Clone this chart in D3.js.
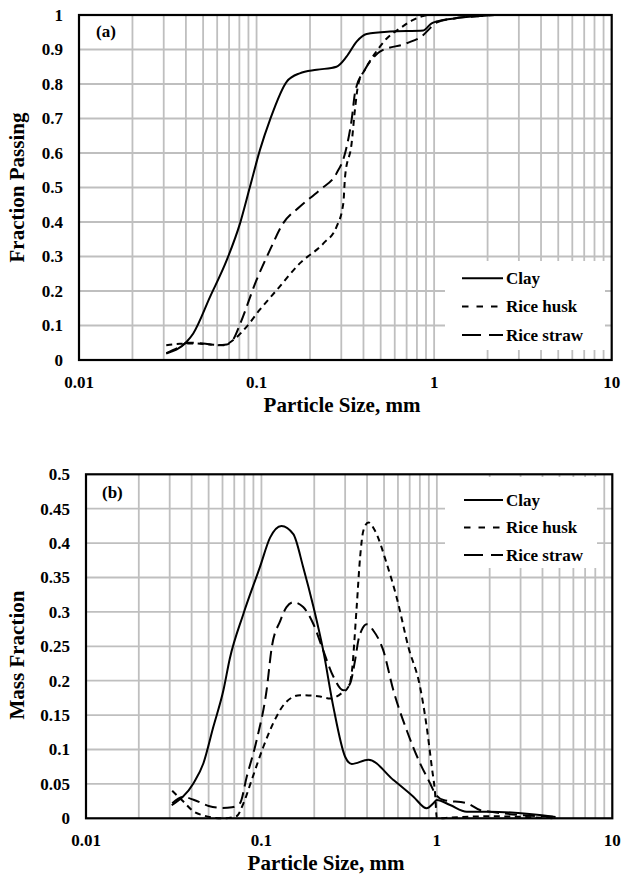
<html>
<head>
  <script src="https://cdn.jsdelivr.net/npm/d3@7"></script>
  <title>Particle size distribution</title>
  <style>
  body { margin: 0; background: #fff; }
  svg { background-color: #fff; }
  text { font-family: "Liberation Serif", "Times New Roman", serif; font-weight: bold; fill: #000; }
  </style>
</head>
<body>
  <div id="svg"></div>
  <script>

  // x tick labels (particle size, mm)
  var sizeTicks = [0.01, 0.1, 1, 10];
  var seriesNames = ["Clay", "Rice husk", "Rice straw"];

  // (a) fraction passing
  var passTicks = [0, 0.1, 0.2, 0.3, 0.4, 0.5, 0.6, 0.7, 0.8, 0.9, 1];
  var clayPassSize = [0.031, 0.0404, 0.044, 0.0547, 0.068, 0.0807, 0.0918, 0.1045, 0.119, 0.148, 0.175, 0.218, 0.282, 0.321, 0.366, 0.417, 0.564, 0.869, 0.968, 1.03, 1.3, 1.81, 2.2, 4.75];
  var clayPass = [0.019, 0.053, 0.077, 0.183, 0.29, 0.396, 0.502, 0.609, 0.696, 0.807, 0.831, 0.841, 0.85, 0.879, 0.923, 0.945, 0.952, 0.955, 0.976, 0.981, 0.99, 0.997, 1.0, 1.0];
  var huskPassSize = [0.031, 0.037, 0.045, 0.055, 0.065, 0.074, 0.088, 0.104, 0.13, 0.175, 0.238, 0.282, 0.308, 0.315, 0.343, 0.358, 0.374, 0.407, 0.465, 0.541, 0.641, 0.762, 0.868, 0.95, 4.75];
  var huskPass = [0.043, 0.047, 0.048, 0.045, 0.043, 0.058, 0.097, 0.145, 0.203, 0.28, 0.338, 0.386, 0.454, 0.531, 0.628, 0.725, 0.8, 0.841, 0.889, 0.932, 0.961, 0.986, 0.997, 1.0, 1.0];
  var strawPassSize = [0.031, 0.036, 0.041, 0.05, 0.06, 0.068, 0.074, 0.081, 0.1, 0.119, 0.141, 0.175, 0.227, 0.282, 0.315, 0.343, 0.36, 0.407, 0.465, 0.495, 0.7, 0.869, 0.95, 1.03, 1.3, 1.81, 2.2, 4.75];
  var strawPass = [0.02, 0.035, 0.05, 0.048, 0.043, 0.045, 0.06, 0.106, 0.232, 0.319, 0.396, 0.444, 0.493, 0.541, 0.599, 0.696, 0.78, 0.841, 0.882, 0.894, 0.918, 0.942, 0.962, 0.978, 0.99, 0.997, 1.0, 1.0];

  // (b) mass fraction
  var massTicks = [0, 0.05, 0.1, 0.15, 0.2, 0.25, 0.3, 0.35, 0.4, 0.45, 0.5];
  var clayMassSize = [0.0308, 0.041, 0.0467, 0.0532, 0.0607, 0.066, 0.0789, 0.098, 0.112, 0.13, 0.152, 0.173, 0.198, 0.225, 0.257, 0.3, 0.327, 0.407, 0.565, 0.735, 0.875, 0.955, 1.0, 1.19, 1.48, 2.0, 4.75];
  var clayMass = [0.019, 0.051, 0.08, 0.133, 0.186, 0.232, 0.297, 0.365, 0.408, 0.425, 0.413, 0.365, 0.307, 0.244, 0.162, 0.0895, 0.079, 0.085, 0.0557, 0.0314, 0.0145, 0.0218, 0.0266, 0.0193, 0.0097, 0.0097, 0.002];
  var huskMassSize = [0.031, 0.036, 0.041, 0.047, 0.06, 0.072, 0.079, 0.088, 0.1026, 0.122, 0.136, 0.166, 0.216, 0.246, 0.287, 0.313, 0.327, 0.349, 0.365, 0.381, 0.407, 0.444, 0.518, 0.59, 0.688, 0.802, 0.875, 0.935, 0.977, 1.0, 1.2, 2.0, 4.75];
  var huskMass = [0.04, 0.024, 0.01, 0.004, 0.0, 0.003, 0.0218, 0.0557, 0.104, 0.148, 0.167, 0.179, 0.177, 0.174, 0.182, 0.191, 0.211, 0.307, 0.379, 0.418, 0.43, 0.418, 0.37, 0.321, 0.249, 0.191, 0.133, 0.075, 0.036, 0.0, 0.001, 0.003, 0.0];
  var strawMassSize = [0.031, 0.036, 0.041, 0.05, 0.06, 0.068, 0.0755, 0.0824, 0.094, 0.107, 0.1146, 0.128, 0.139, 0.152, 0.173, 0.198, 0.225, 0.257, 0.293, 0.32, 0.342, 0.357, 0.372, 0.398, 0.434, 0.495, 0.565, 0.673, 0.802, 0.914, 0.977, 1.09, 1.48, 1.76, 2.0, 4.75];
  var strawMass = [0.022, 0.031, 0.027, 0.018, 0.015, 0.016, 0.022, 0.06, 0.114, 0.186, 0.249, 0.287, 0.307, 0.314, 0.307, 0.282, 0.244, 0.206, 0.186, 0.196, 0.23, 0.259, 0.273, 0.282, 0.273, 0.244, 0.186, 0.128, 0.08, 0.051, 0.036, 0.0266, 0.022, 0.012, 0.0097, 0.002];

  var width = 622, height = 875;
  var dashes = [null, "6,4.5", "12,6"];
  var serif = "'Liberation Serif', 'Times New Roman', serif";

  var svg = d3.select("#svg").append("svg").attr("width", width).attr("height", height)
    .attr("font-family", serif).attr("font-weight", "bold");

  function pairs(xs, ys) {
    return xs.map(function(x, i) { return [x, ys[i]]; });
  }

  function panel(p) {
    var g = svg.append("g");
    var x = d3.scaleLog().domain([0.01, 10]).range([p.left, p.right]);
    var y = d3.scaleLinear().domain([0, p.ymax]).range([p.bottom, p.top]);

    // vertical grid (major + minor)
    var vgrid = [];
    [0.01, 0.1, 1].forEach(function(dec) {
      for (var k = 1; k < 10; k++) vgrid.push(dec * k);
    });
    vgrid = vgrid.filter(function(v) { return v > 0.01; });
    g.selectAll(".vg").data(vgrid).enter().append("line")
      .attr("x1", function(d) { return x(d); }).attr("x2", function(d) { return x(d); })
      .attr("y1", p.top).attr("y2", p.bottom)
      .attr("stroke", "#bfbfbf").attr("stroke-width", 1.8);
    g.selectAll(".hg").data(p.yticks.slice(1, -1)).enter().append("line")
      .attr("x1", p.left).attr("x2", p.right)
      .attr("y1", function(d) { return y(d); }).attr("y2", function(d) { return y(d); })
      .attr("stroke", "#bfbfbf").attr("stroke-width", 1.8);

    // legend background hides the grid
    g.append("rect").attr("x", p.legend.x0).attr("y", p.legend.y0)
      .attr("width", p.legend.x1 - p.legend.x0).attr("height", p.legend.y1 - p.legend.y0)
      .attr("fill", "#fff");

    var line = d3.line()
      .x(function(d) { return x(d[0]); })
      .y(function(d) { return y(d[1]); })
      .curve(d3.curveMonotoneX);

    p.series.forEach(function(s, i) {
      g.append("path").datum(s)
        .attr("d", line)
        .attr("fill", "none")
        .attr("stroke", "#000")
        .attr("stroke-width", 2)
        .attr("stroke-dasharray", dashes[i]);
    });

    // frame
    g.append("rect").attr("x", p.left).attr("y", p.top)
      .attr("width", p.right - p.left).attr("height", p.bottom - p.top)
      .attr("fill", "none").attr("stroke", "#000").attr("stroke-width", 2.2);

    // axes labels
    g.selectAll(".yt").data(p.yticks).enter().append("text")
      .attr("x", p.left - 16).attr("y", function(d) { return y(d); })
      .attr("dy", "0.35em").attr("text-anchor", "end")
      .style("font-size", "17px")
      .text(function(d) { return String(+d.toFixed(2)); });
    g.selectAll(".xt").data(sizeTicks).enter().append("text")
      .attr("x", function(d) { return x(d); }).attr("y", p.bottom + 28)
      .attr("text-anchor", "middle")
      .style("font-size", "17px")
      .text(function(d) { return String(d); });

    g.append("text").attr("x", p.xtitleX).attr("y", p.bottom + 51.5)
      .attr("text-anchor", "middle").style("font-size", "21px")
      .text("Particle Size, mm");
    g.append("text")
      .attr("transform", "translate(24," + p.ytitleY + ") rotate(-90)")
      .attr("text-anchor", "middle").style("font-size", "21px")
      .text(p.ytitle);

    g.append("text").attr("x", p.tag.x).attr("y", p.tag.y)
      .style("font-size", "17px").text(p.tag.text);

    // legend entries
    seriesNames.forEach(function(name, i) {
      var ly = p.legend.first + i * p.legend.step;
      g.append("line").attr("x1", p.legend.lx0).attr("x2", p.legend.lx1)
        .attr("y1", ly).attr("y2", ly)
        .attr("stroke", "#000").attr("stroke-width", 2)
        .attr("stroke-dasharray", i == 1 ? "6.5,8" : (i == 2 ? "19,8" : null));
      g.append("text").attr("x", p.legend.lx1 + 3).attr("y", ly)
        .attr("dy", "0.33em").style("font-size", "17px").text(name);
    });
  }

  panel({
    left: 79, right: 611.7, top: 15, bottom: 360, ymax: 1,
    yticks: passTicks, ytitle: "Fraction Passing", xtitleX: 342, ytitleY: 187.5,
    tag: { x: 96, y: 37, text: "(a)" },
    legend: { x0: 445, x1: 605, y0: 261, y1: 350, first: 278.3, step: 28.3, lx0: 462, lx1: 503 },
    series: [pairs(clayPassSize, clayPass), pairs(huskPassSize, huskPass), pairs(strawPassSize, strawPass)]
  });

  panel({
    left: 86, right: 612.3, top: 474.3, bottom: 818.3, ymax: 0.5,
    yticks: massTicks, ytitle: "Mass Fraction", xtitleX: 326, ytitleY: 655,
    tag: { x: 102, y: 498, text: "(b)" },
    legend: { x0: 445, x1: 597, y0: 477, y1: 568, first: 500, step: 27.5, lx0: 464, lx1: 503 },
    series: [pairs(clayMassSize, clayMass), pairs(huskMassSize, huskMass), pairs(strawMassSize, strawMass)]
  });

  </script>
</body>
</html>
